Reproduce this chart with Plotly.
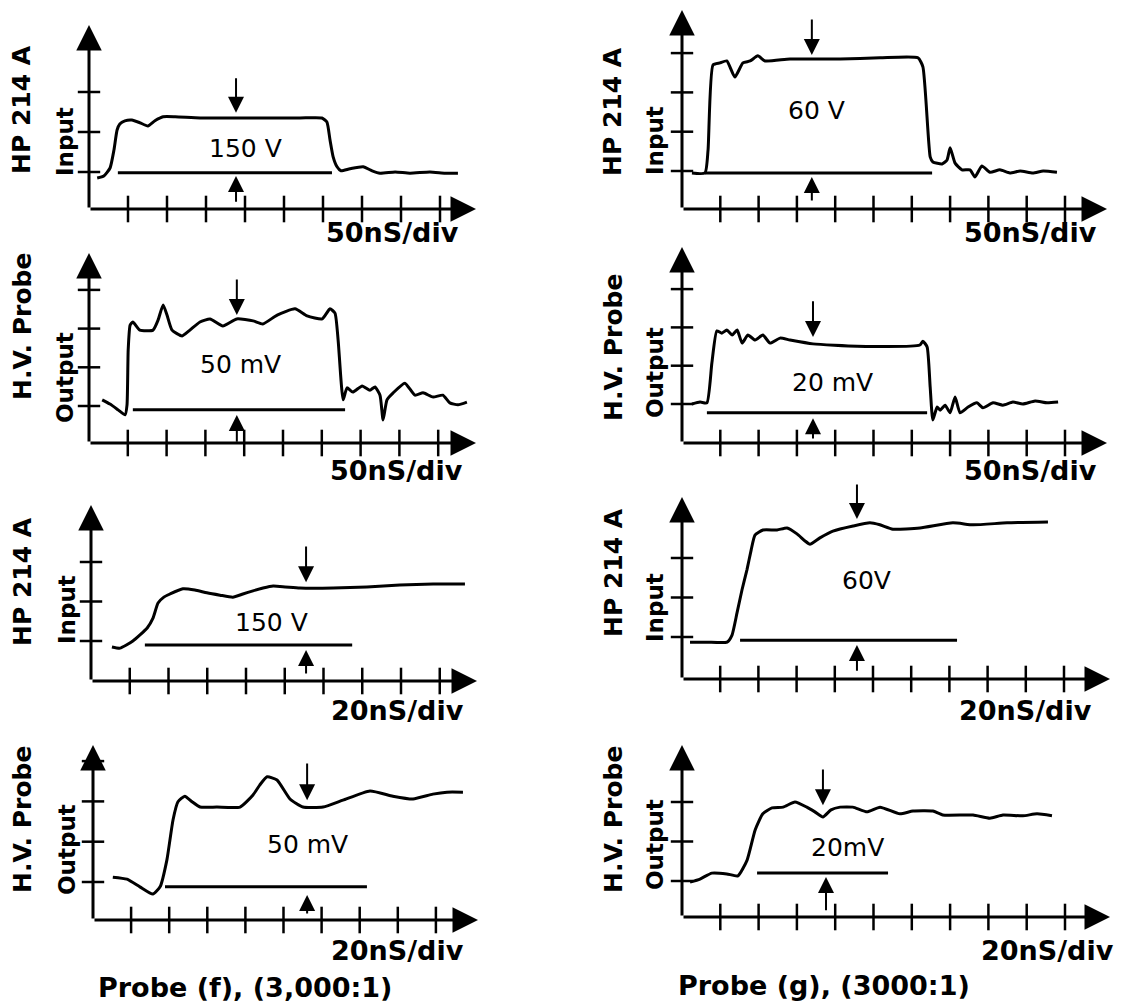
import plotly.graph_objects as go

# ---------------- DATA (time and amplitude in screen divisions) ----------------
p1_x = [0.21, 0.38, 0.54, 0.64, 0.72, 0.79, 0.92, 1.10, 1.31, 1.51, 1.69, 1.90, 2.21, 2.85, 4.13, 5.41, 5.97,
        6.10, 6.18, 6.26, 6.36, 6.46, 6.69, 7.03, 7.26, 7.46, 7.85, 8.23, 8.74, 9.13, 9.46]
p1_y = [-0.15, -0.10, 0.10, 0.55, 1.05, 1.20, 1.28, 1.30, 1.23, 1.15, 1.28, 1.38, 1.38, 1.35, 1.35, 1.35, 1.35,
        1.25, 0.80, 0.38, 0.13, 0.03, 0.08, 0.13, 0.03, -0.03, 0.00, -0.03, 0.00, -0.03, -0.03]

p2_x = [0.34, 0.54, 0.75, 0.93, 0.98, 1.01, 1.06, 1.13, 1.31, 1.65, 1.78, 1.91, 2.01, 2.14, 2.40, 2.60, 2.86,
        3.12, 3.45, 3.81, 4.23, 4.48, 4.85, 5.31, 5.62, 6.01, 6.21, 6.34, 6.42, 6.55, 6.65, 6.80, 7.04, 7.24,
        7.37, 7.50, 7.58, 7.68, 7.84, 8.14, 8.40, 8.61, 8.87, 9.12, 9.30, 9.51, 9.74]
p2_y = [0.16, 0.05, -0.10, -0.23, 0.03, 1.45, 2.09, 2.17, 1.96, 1.96, 2.22, 2.61, 2.35, 1.96, 1.81, 1.96, 2.17,
        2.25, 2.07, 2.25, 2.20, 2.12, 2.35, 2.51, 2.33, 2.25, 2.51, 2.40, 1.71, 0.16, 0.47, 0.36, 0.52, 0.41,
        0.49, 0.28, -0.36, 0.16, 0.34, 0.59, 0.28, 0.34, 0.23, 0.28, 0.08, 0.03, 0.10]

p3_x = [0.54, 0.75, 1.08, 1.45, 1.60, 1.73, 1.88, 2.04, 2.37, 2.68, 2.99, 3.33, 3.66, 3.92, 4.18, 4.44, 4.70,
        5.01, 5.39, 6.25, 7.12, 7.97, 8.83, 9.65]
p3_y = [-0.15, -0.18, 0.00, 0.33, 0.58, 0.96, 1.11, 1.19, 1.32, 1.29, 1.22, 1.16, 1.11, 1.19, 1.27, 1.34, 1.39,
        1.37, 1.34, 1.34, 1.37, 1.42, 1.44, 1.44]

p4_x = [0.52, 0.89, 1.23, 1.57, 1.76, 1.94, 2.10, 2.23, 2.41, 2.60, 2.81, 3.25, 3.86, 4.20, 4.38, 4.57, 4.83,
        5.17, 5.51, 6.04, 6.56, 7.27, 7.87, 8.40, 8.92, 9.29, 9.71]
p4_y = [0.12, 0.07, -0.12, -0.30, -0.12, 0.55, 1.54, 1.99, 2.13, 1.99, 1.86, 1.86, 1.86, 2.16, 2.41, 2.61, 2.53,
        2.06, 1.86, 1.86, 2.03, 2.26, 2.13, 2.06, 2.18, 2.23, 2.23]

p5_x = [0.26, 0.60, 0.68, 0.81, 0.99, 1.17, 1.38, 1.59, 1.78, 1.98, 2.17, 2.82, 4.13, 5.17, 6.16, 6.29, 6.48,
        6.55, 6.79, 6.92, 7.00, 7.13, 7.31, 7.52, 7.65, 7.83, 8.04, 8.30, 8.56, 8.83, 9.16, 9.43, 9.79]
p5_y = [-0.05, -0.05, 0.53, 2.70, 2.75, 2.80, 2.39, 2.75, 2.80, 2.93, 2.80, 2.85, 2.85, 2.88, 2.88, 2.65, 0.36,
        0.23, 0.18, 0.28, 0.59, 0.20, 0.03, 0.03, -0.15, 0.13, -0.03, 0.03, -0.05, 0.00, -0.05, 0.00, -0.03]

p6_x = [0.26, 0.47, 0.65, 0.78, 0.91, 1.04, 1.17, 1.31, 1.44, 1.57, 1.72, 1.91, 2.11, 2.30, 2.56, 2.82, 3.42,
        4.57, 6.21, 6.29, 6.40, 6.48, 6.55, 6.66, 6.74, 6.87, 7.00, 7.13, 7.26, 7.47, 7.70, 7.86, 8.12, 8.38,
        8.64, 8.90, 9.22, 9.53, 9.82]
p6_y = [0.00, 0.05, 0.03, 1.07, 1.91, 1.85, 1.93, 1.80, 1.93, 1.59, 1.80, 1.67, 1.80, 1.59, 1.72, 1.67, 1.57,
        1.51, 1.54, 1.64, 1.49, 0.44, -0.42, -0.08, -0.16, -0.03, -0.23, 0.18, -0.23, -0.08, 0.03, -0.10, 0.03,
        -0.03, 0.05, 0.00, 0.08, 0.03, 0.05]

p7_x = [0.21, 0.65, 1.18, 1.31, 1.44, 1.57, 1.70, 1.81, 1.91, 2.12, 2.49, 2.75, 3.01, 3.22, 3.35, 3.61, 3.95,
        4.48, 4.92, 5.18, 5.52, 6.23, 7.09, 7.62, 8.51, 9.58]
p7_y = [-0.13, -0.13, -0.13, 0.05, 0.61, 1.19, 1.70, 2.20, 2.58, 2.71, 2.71, 2.76, 2.61, 2.43, 2.35, 2.51, 2.68,
        2.81, 2.89, 2.84, 2.73, 2.76, 2.89, 2.84, 2.89, 2.91]

p8_x = [0.21, 0.47, 0.78, 1.17, 1.46, 1.70, 1.91, 2.11, 2.35, 2.64, 2.95, 3.26, 3.47, 3.68, 3.89, 4.13, 4.46,
        4.83, 5.17, 5.69, 6.03, 6.55, 6.81, 7.60, 8.04, 8.38, 8.90, 9.27, 9.66]
p8_y = [-0.03, 0.05, 0.20, 0.18, 0.13, 0.53, 1.29, 1.70, 1.85, 1.87, 2.00, 1.87, 1.75, 1.62, 1.80, 1.87, 1.87,
        1.75, 1.87, 1.70, 1.77, 1.77, 1.67, 1.67, 1.59, 1.67, 1.65, 1.70, 1.65]

wave_x = [p1_x, p2_x, p3_x, p4_x, p5_x, p6_x, p7_x, p8_x]
wave_y = [p1_y, p2_y, p3_y, p4_y, p5_y, p6_y, p7_y, p8_y]

# amplitude reference line (start, end, level) and measuring arrows
ref_x0 = [0.74, 1.13, 1.39, 1.89, 0.60, 0.65, 1.52, 1.96]
ref_x1 = [6.23, 6.60, 6.74, 7.19, 6.53, 6.40, 7.20, 5.38]
ref_y = [-0.02, -0.10, -0.10, -0.12, -0.05, -0.23, -0.08, 0.20]
arrow_top_x = [3.77, 3.81, 5.55, 5.62, 3.39, 3.42, 4.58, 3.68]
arrow_bot_x = [3.77, 3.81, 5.55, 5.62, 3.39, 3.42, 4.58, 3.76]
top_from = [2.38, 3.31, 2.43, 2.98, 3.89, 2.72, 3.90, 2.86]
top_to = [1.48, 2.35, 1.49, 2.03, 2.95, 1.75, 2.99, 1.92]
bot_from = [-0.78, -0.96, -0.86, -0.82, -0.79, -0.94, -0.89, -0.78]
bot_to = [-0.10, -0.23, -0.23, -0.32, -0.15, -0.37, -0.20, 0.10]

# tick divisions
x_ticks_left = [1, 2, 3, 4, 5, 6, 7, 8, 9]
x_ticks_right = [1, 2, 3, 4, 5, 6, 7, 8, 9, 10]
y_ticks = [[0, 1, 2], [0, 1, 2, 3], [0, 1, 2], [0, 1, 2, 3],
           [0, 1, 2, 3], [0, 1, 2, 3], [0, 1, 2], [0, 1, 2]]

# texts
value_labels = ["150 V", "50 mV", "150 V", "50 mV", "60 V", "20 mV", "60V", "20mV"]
scale_labels = ["50nS/div", "50nS/div", "20nS/div", "20nS/div", "50nS/div", "50nS/div", "20nS/div", "20nS/div"]
outer_labels = ["HP 214 A", "H.V. Probe", "HP 214 A", "H.V. Probe", "HP 214 A", "H.V. Probe", "HP 214 A", "H.V. Probe"]
inner_labels = ["Input", "Output", "Input", "Output", "Input", "Output", "Input", "Output"]
captions = ["Probe (f), (3,000:1)", "Probe (g), (3000:1)"]

# ---------------- LAYOUT GEOMETRY (pixels in the page) ----------------
PAGE_W, PAGE_H = 1137, 1004
OFF = 8                      # default page margin of the html body
W, H = PAGE_W - OFF, PAGE_H - OFF
geom = [
    dict(px0=89, pxs=39.0, pyb=172, pys=40.0, pya=209, ptop=25, tip=476),
    dict(px0=89, pxs=38.8, pyb=406, pys=38.7, pya=443, ptop=253, tip=476),
    dict(px0=91, pxs=38.75, pyb=641, pys=39.5, pya=681, ptop=505, tip=477),
    dict(px0=93, pxs=38.1, pyb=882, pys=40.3, pya=920, ptop=745, tip=478),
    dict(px0=682, pxs=38.3, pyb=171, pys=39.3, pya=209, ptop=10, tip=1107),
    dict(px0=682, pxs=38.3, pyb=404, pys=38.3, pya=443, ptop=247, tip=1107),
    dict(px0=682, pxs=38.2, pyb=637, pys=39.5, pya=679, ptop=497, tip=1110),
    dict(px0=682, pxs=38.3, pyb=881, pys=39.5, pya=917, ptop=745, tip=1110),
]
value_pos = [(4.0, 0.6), (3.9, 1.06), (4.67, 0.46), (5.64, 0.92),
             (3.52, 1.55), (3.94, 0.57), (4.84, 1.44), (4.33, 0.84)]
outer_pos = [(22, 110), (22, 327), (22, 582), (22, 820), (613, 112), (613, 348), (613, 573), (613, 820)]
inner_pos = [(65, 142), (65, 378), (67, 610), (67, 850), (655, 141), (655, 373), (655, 608), (655, 845)]
scale_pos = [(392, 232), (396, 470), (397, 710), (397, 950), (1030, 232), (1030, 470), (1025, 710), (1047, 950)]
caption_pos = [(245, 987), (824, 985)]

FONT = "DejaVu Sans"
INK = "black"
fig = go.Figure()
annotations = []
layout_axes = {}


def px(x):
    return (x - OFF) / W


def py(y):
    return 1 - (y - OFF) / H


for i, g in enumerate(geom):
    n = i + 1
    xa = "x" if n == 1 else f"x{n}"
    ya = "y" if n == 1 else f"y{n}"
    pad = 22
    xl = max(OFF, g["px0"] - pad)
    xr = min(PAGE_W, g["tip"] + pad)
    yt = max(OFF, g["ptop"] - pad)
    yb = min(PAGE_H, g["pya"] + pad)
    xrange = [(xl - g["px0"]) / g["pxs"], (xr - g["px0"]) / g["pxs"]]
    yrange = [(g["pyb"] - yb) / g["pys"], (g["pyb"] - yt) / g["pys"]]
    layout_axes["xaxis" if n == 1 else f"xaxis{n}"] = dict(
        domain=[px(xl), px(xr)], range=xrange, visible=False, anchor=ya, fixedrange=True)
    layout_axes["yaxis" if n == 1 else f"yaxis{n}"] = dict(
        domain=[py(yb), py(yt)], range=yrange, visible=False, anchor=xa, fixedrange=True)

    y_axis_level = (g["pyb"] - g["pya"]) / g["pys"]
    x_tip = (g["tip"] - g["px0"]) / g["pxs"]
    y_tip = (g["pyb"] - g["ptop"]) / g["pys"]

    # waveform
    fig.add_trace(go.Scatter(x=wave_x[i], y=wave_y[i], mode="lines", xaxis=xa, yaxis=ya,
                             line=dict(color=INK, width=3, shape="spline", smoothing=0.5),
                             cliponaxis=False, showlegend=False, hoverinfo="skip"))
    # reference level line
    fig.add_trace(go.Scatter(x=[ref_x0[i], ref_x1[i]], y=[ref_y[i], ref_y[i]], mode="lines",
                             xaxis=xa, yaxis=ya, line=dict(color=INK, width=3),
                             cliponaxis=False, showlegend=False, hoverinfo="skip"))
    # tick marks crossing the axes
    xt = x_ticks_left if i < 4 else x_ticks_right
    fig.add_trace(go.Scatter(x=xt, y=[y_axis_level] * len(xt), mode="markers", xaxis=xa, yaxis=ya,
                             marker=dict(symbol="line-ns", size=19, line=dict(color=INK, width=2.5)),
                             cliponaxis=False, showlegend=False, hoverinfo="skip"))
    fig.add_trace(go.Scatter(x=[0] * len(y_ticks[i]), y=y_ticks[i], mode="markers", xaxis=xa, yaxis=ya,
                             marker=dict(symbol="line-ew", size=16, line=dict(color=INK, width=2.5)),
                             cliponaxis=False, showlegend=False, hoverinfo="skip"))

    def arrow(x, y, ax, ay, w, s):
        annotations.append(dict(x=x, y=y, ax=ax, ay=ay, xref=xa, yref=ya, axref=xa, ayref=ya,
                                text="", showarrow=True, arrowhead=2, arrowwidth=w, arrowsize=s,
                                arrowcolor=INK, standoff=0, startstandoff=0))

    # axes with arrow heads
    arrow(x_tip, y_axis_level, 0, y_axis_level, 3, 1.7)
    arrow(0, y_tip, 0, y_axis_level, 3, 1.7)
    # amplitude arrows
    arrow(arrow_top_x[i], top_to[i], arrow_top_x[i], top_from[i], 2, 1.6)
    arrow(arrow_bot_x[i], bot_to[i], arrow_bot_x[i], bot_from[i], 2, 1.6)

    # value label
    annotations.append(dict(x=value_pos[i][0], y=value_pos[i][1], xref=xa, yref=ya, text=value_labels[i],
                            xanchor="center", yanchor="middle",
                            showarrow=False, font=dict(family=FONT, size=25, color=INK)))
    # side labels
    annotations.append(dict(x=px(outer_pos[i][0]), y=py(outer_pos[i][1]), xref="paper", yref="paper",
                            text=f"<b>{outer_labels[i]}</b>", textangle=-90, showarrow=False,
                            xanchor="center", yanchor="middle",
                            font=dict(family=FONT, size=25, color=INK)))
    annotations.append(dict(x=px(inner_pos[i][0]), y=py(inner_pos[i][1]), xref="paper", yref="paper",
                            text=f"<b>{inner_labels[i]}</b>", textangle=-90, showarrow=False,
                            xanchor="center", yanchor="middle",
                            font=dict(family=FONT, size=23, color=INK)))
    # time-base label
    annotations.append(dict(x=px(scale_pos[i][0]), y=py(scale_pos[i][1]), xref="paper", yref="paper",
                            text=f"<b>{scale_labels[i]}</b>", showarrow=False,
                            xanchor="center", yanchor="middle",
                            font=dict(family=FONT, size=27, color=INK)))

for c, (cx, cy) in zip(captions, caption_pos):
    annotations.append(dict(x=px(cx), y=py(cy), xref="paper", yref="paper", text=f"<b>{c}</b>",
                            xanchor="center", yanchor="middle",
                            showarrow=False, font=dict(family=FONT, size=27, color=INK)))

fig.update_layout(width=W, height=H, margin=dict(l=0, r=0, t=0, b=0),
                  paper_bgcolor="white", plot_bgcolor="rgba(0,0,0,0)",
                  annotations=annotations, showlegend=False, **layout_axes)
fig.write_html("out.html")
